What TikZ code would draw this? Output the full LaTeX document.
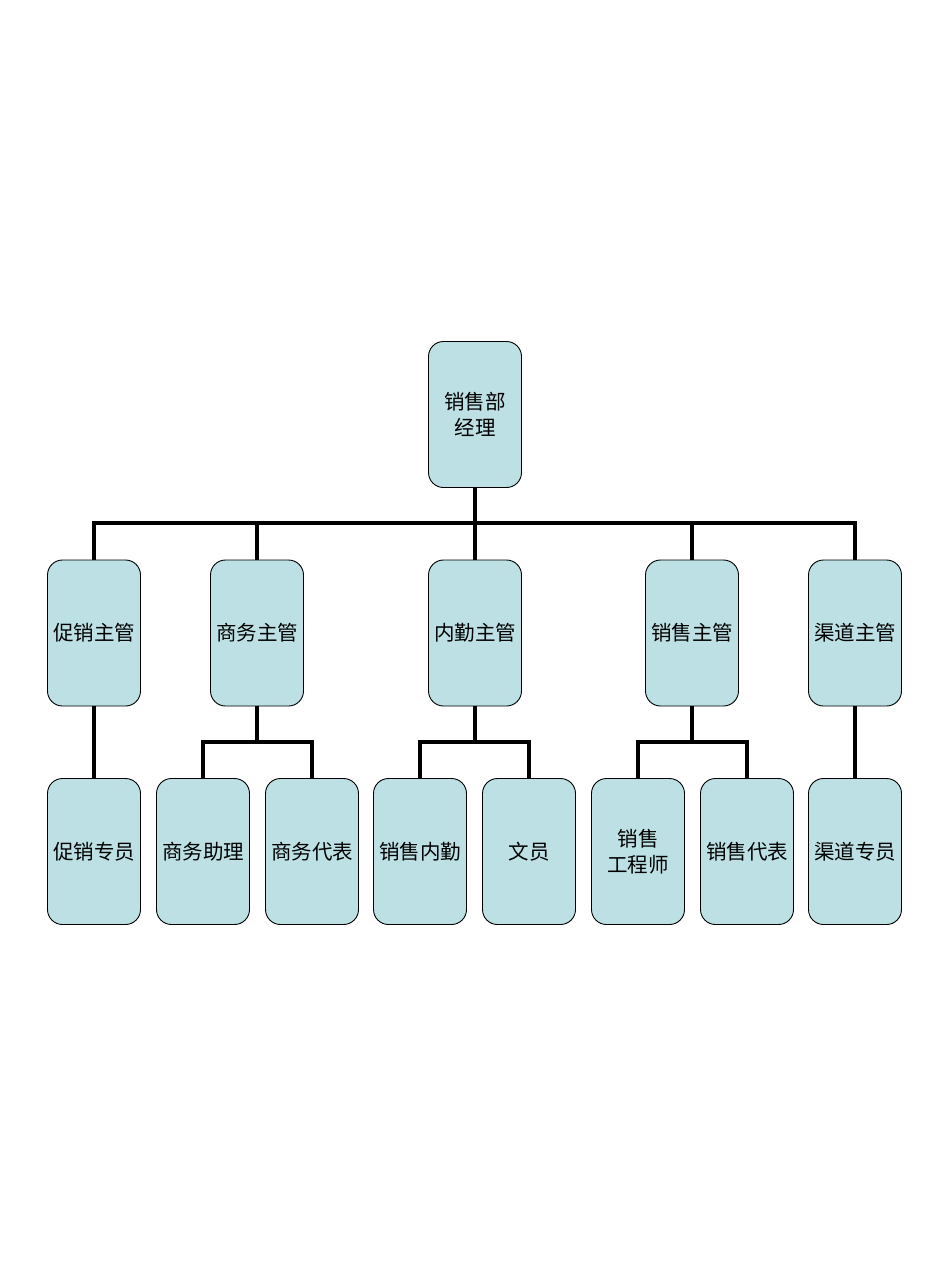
\documentclass[tikz,border=0pt]{standalone}
\usepackage{fontspec}
\newfontfamily\cjk{Noto Sans CJK SC}
\definecolor{boxfill}{HTML}{BCE0E3}
\begin{document}
\begin{tikzpicture}[x=1pt,y=-1pt,
  box/.style={draw=black,line width=0.9pt,fill=boxfill,rounded corners=15pt,
    minimum width=93pt,minimum height=146pt,inner sep=0pt,align=center,
    font=\cjk\fontsize{20.5}{26}\selectfont},
  conn/.style={draw=black,line width=3.6pt,line join=miter}]
\useasboundingbox (0,0) rectangle (950,1267);
\node[box] (top) at (475,414.5) {销售部\\经理};
\node[box] (m1) at (94,633) {促销主管};
\node[box] (m2) at (257,633) {商务主管};
\node[box] (m3) at (475,633) {内勤主管};
\node[box] (m4) at (692,633) {销售主管};
\node[box] (m5) at (855,633) {渠道主管};
\node[box] (s1) at (94,851.5) {促销专员};
\node[box] (s2) at (203,851.5) {商务助理};
\node[box] (s3) at (312,851.5) {商务代表};
\node[box] (s4) at (420,851.5) {销售内勤};
\node[box] (s5) at (529,851.5) {文员};
\node[box] (s6) at (638,851.5) {销售\\工程师};
\node[box] (s7) at (747,851.5) {销售代表};
\node[box] (s8) at (855,851.5) {渠道专员};
\coordinate (bus) at (0,523);
\coordinate (sub) at (0,742);
\foreach \m in {m1,m2,m3,m4,m5}{
  \draw[conn] (top.south) -- (top.south |- bus) -| (\m.north);
}
\draw[conn] (m1.south) -- (s1.north);
\draw[conn] (m5.south) -- (s8.north);
\draw[conn] (m2.south) -- (m2.south |- sub) -| (s2.north);
\draw[conn] (m2.south) -- (m2.south |- sub) -| (s3.north);
\draw[conn] (m3.south) -- (m3.south |- sub) -| (s4.north);
\draw[conn] (m3.south) -- (m3.south |- sub) -| (s5.north);
\draw[conn] (m4.south) -- (m4.south |- sub) -| (s6.north);
\draw[conn] (m4.south) -- (m4.south |- sub) -| (s7.north);
\end{tikzpicture}
\end{document}
